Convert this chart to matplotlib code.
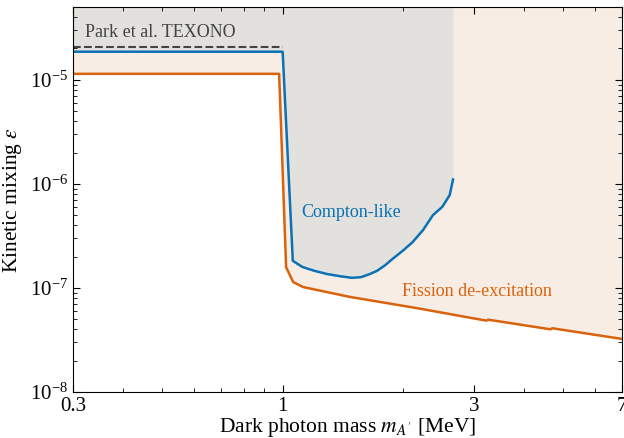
import numpy as np
import matplotlib.pyplot as plt
from matplotlib.ticker import FixedLocator, NullFormatter, LogLocator

plt.rcParams['font.family'] = ['Liberation Serif', 'DejaVu Serif']
plt.rcParams['mathtext.fontset'] = 'stix'

# Park et al. TEXONO limit (flat)
texono_x = [0.3, 1.0]
texono_y = [2.05e-5, 2.05e-5]

# Compton-like limit
compton_x = [0.3, 1.0, 1.06, 1.12, 1.2, 1.29, 1.4, 1.49, 1.57, 1.65, 1.72, 1.8, 1.88,
             2.0, 2.11, 2.24, 2.37, 2.5, 2.61, 2.66]
compton_y = [1.86e-5, 1.86e-5, 1.82e-7, 1.59e-7, 1.46e-7, 1.36e-7, 1.29e-7, 1.25e-7,
             1.27e-7, 1.36e-7, 1.46e-7, 1.65e-7, 1.9e-7, 2.3e-7, 2.76e-7, 3.6e-7,
             5.0e-7, 6.0e-7, 7.8e-7, 1.1e-6]

# Fission de-excitation limit
fission_x = [0.3, 0.98, 1.02, 1.062, 1.124, 1.47, 2.16, 3.22, 3.26, 4.66, 4.70, 7.0]
fission_y = [1.14e-5, 1.14e-5, 1.58e-7, 1.14e-7, 1.02e-7, 8.2e-8, 6.4e-8, 4.85e-8, 4.95e-8,
             4.0e-8, 4.1e-8, 3.24e-8]

ymin, ymax = 1e-8, 5e-5
blue = '#0a72b4'
orange = '#d9620c'

fig, ax = plt.subplots(figsize=(6.24, 4.38), dpi=100)
fig.subplots_adjust(left=0.117, right=0.996, top=0.984, bottom=0.105)

ax.fill_between(fission_x, fission_y, ymax, color='#f8ede4', lw=0)
ax.fill_between(compton_x, compton_y, ymax, color='#e2e1de', lw=0)
ax.plot(texono_x, texono_y, '--', color='#444444', lw=1.5)
ax.plot(compton_x, compton_y, color=blue, lw=1.8)
ax.plot(fission_x, fission_y, color=orange, lw=1.8)

ax.text(0.322, 2.55e-5, 'Park et al. TEXONO', color='#444444', fontsize=13)
ax.text(1.11, 4.8e-7, 'Compton-like', color=blue, fontsize=13)
ax.text(1.99, 8.4e-8, 'Fission de-excitation', color=orange, fontsize=13)

ax.set_xscale('log')
ax.set_yscale('log')
ax.set_xlim(0.3, 7)
ax.set_ylim(ymin, ymax)
ax.xaxis.set_major_locator(FixedLocator([0.3, 1, 3, 7]))
ax.xaxis.set_major_formatter(plt.FixedFormatter(['0.3', '1', '3', '7']))
ax.xaxis.set_minor_locator(FixedLocator([0.4, 0.5, 0.6, 0.7, 0.8, 0.9, 2, 4, 5, 6]))
ax.xaxis.set_minor_formatter(NullFormatter())
ax.yaxis.set_major_locator(LogLocator(base=10, numticks=10))
ax.yaxis.set_minor_locator(LogLocator(base=10, subs=np.arange(2, 10), numticks=10))
ax.tick_params(which='both', direction='in', top=True, right=True, labelsize=15)
ax.tick_params(which='major', length=5)
ax.tick_params(which='minor', length=3)

ax.set_xlabel(r"Dark photon mass $m_{A'}$ [MeV]", fontsize=15.5, labelpad=0)
ax.set_ylabel(r"Kinetic mixing $\varepsilon$", fontsize=15.5)

fig.savefig('out.png', dpi=100)
